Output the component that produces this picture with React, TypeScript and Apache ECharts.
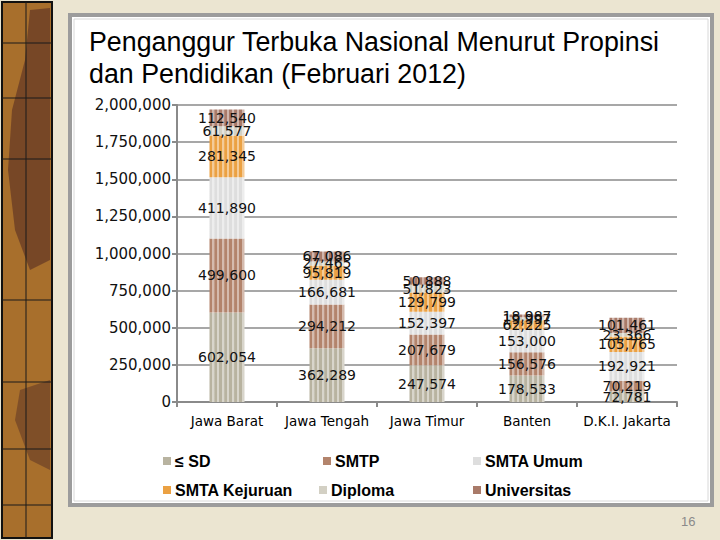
import React, { useEffect, useRef } from "react";
import * as echarts from "echarts";

const categories = ["Jawa Barat", "Jawa Tengah", "Jawa Timur", "Banten", "D.K.I. Jakarta"];
const seriesNames = ["≤ SD", "SMTP", "SMTA Umum", "SMTA Kejuruan", "Diploma", "Universitas"];
const sd = [602054, 362289, 247574, 178533, 72781];
const smtp = [499600, 294212, 207679, 156576, 70219];
const smtaUmum = [411890, 166681, 152397, 153000, 192921];
const smtaKejuruan = [281345, 95819, 129799, 62225, 105765];
const diploma = [61577, 27465, 51823, 19997, 23366];
const universitas = [112540, 67086, 50888, 18987, 101461];
const yTicks = { min: 0, max: 2000000, interval: 250000 };

const seriesValues = [sd, smtp, smtaUmum, smtaKejuruan, diploma, universitas];
const seriesColors = ["#b8b3a0", "#b3846c", "#dedede", "#eba143", "#d3d0c4", "#a97a69"];

function mix(hex: string, t: number) {
  const n = parseInt(hex.slice(1), 16);
  const r = (n >> 16) & 255, g = (n >> 8) & 255, b = n & 255;
  const f = (c: number) => Math.round(c + (255 - c) * t);
  return `rgb(${f(r)},${f(g)},${f(b)})`;
}

function stripes(hex: string) {
  const stops: any[] = [];
  const n = 14;
  for (let i = 0; i < n; i++) {
    const c = i % 2 === 0 ? hex : mix(hex, 0.45);
    stops.push({ offset: i / n, color: c });
    stops.push({ offset: (i + 1) / n - 0.0001, color: c });
  }
  return new echarts.graphic.LinearGradient(0, 0, 1, 0, stops);
}

const legendPos = [
  { left: 158, top: 448 },
  { left: 318, top: 448 },
  { left: 468, top: 448 },
  { left: 158, top: 477 },
  { left: 314, top: 477 },
  { left: 468, top: 477 },
];

export default function App() {
  const ref = useRef<HTMLDivElement>(null);
  useEffect(() => {
    if (!ref.current) return;
    const chart = echarts.init(ref.current, null, { renderer: "svg" });
    const fmt = (v: number) => v.toLocaleString("en-US");
    const stripLines = [43, 98, 159, 300, 382, 449, 505];
    const graphic: any[] = [
      { type: "rect", z: -10, shape: { x: 0, y: 0, width: 720, height: 540 }, style: { fill: "#ebe5d1" } },
      { type: "rect", z: -9, shape: { x: 2, y: 2, width: 50, height: 536 }, style: { fill: "#a86f2c", stroke: "#111", lineWidth: 2 } },
      { type: "polygon", z: -9, shape: { points: [[30, 10], [50, 8], [50, 260], [30, 270], [15, 230], [8, 170], [12, 110], [25, 60]] }, style: { fill: "#6e4126", opacity: 0.85 } },
      { type: "polygon", z: -9, shape: { points: [[20, 390], [50, 380], [50, 470], [30, 460], [15, 420]] }, style: { fill: "#6e4126", opacity: 0.7 } },
      { type: "line", z: -8, shape: { x1: 26, y1: 2, x2: 26, y2: 538 }, style: { stroke: "#1a1a1a", lineWidth: 1 } },
      ...stripLines.map((y) => ({ type: "line", z: -8, shape: { x1: 2, y1: y, x2: 52, y2: y }, style: { stroke: "#1a1a1a", lineWidth: 1 } })),
      { type: "rect", z: -7, shape: { x: 70, y: 15, width: 642, height: 490 }, style: { fill: "#ffffff", stroke: "#9c9c9c", lineWidth: 4 } },
      { type: "rect", z: -7, shape: { x: 74, y: 19, width: 634, height: 482 }, style: { fill: "none", stroke: "#d8d8d8", lineWidth: 1 } },
      { type: "text", x: 681, y: 515, style: { text: "16", fill: "#8a8a8a", fontSize: 13, fontFamily: "Liberation Sans" } },
    ];
    const series = seriesNames.map((name, i) => ({
      name,
      type: "bar",
      stack: "total",
      barWidth: 35,
      data: seriesValues[i],
      itemStyle: { color: stripes(seriesColors[i]) },
      label: {
        show: true,
        position: "inside",
        formatter: (p: any) => fmt(p.value),
        color: "#111",
        fontFamily: "DejaVu Sans",
        fontSize: 14,
      },
    }));
    const legend = seriesNames.map((name, i) => ({
      data: [{ name, itemStyle: { color: seriesColors[i] } }],
      left: legendPos[i].left,
      top: legendPos[i].top,
      icon: "rect",
      itemWidth: 8,
      itemHeight: 8,
      itemGap: 0,
      selectedMode: false,
      textStyle: { fontFamily: "Liberation Sans", fontSize: 16, fontWeight: "bold", color: "#000", padding: [0, 0, 0, -1] },
    }));
    chart.setOption({
      animation: false,
      title: {
        text: "Penganggur Terbuka Nasional Menurut Propinsi\ndan Pendidikan (Februari 2012)",
        left: 84,
        top: 21,
        textStyle: { fontFamily: "Liberation Sans", fontSize: 26.8, fontWeight: "normal", lineHeight: 32, color: "#000" },
      },
      graphic,
      legend,
      grid: { left: 177, right: 43, top: 105, bottom: 138 },
      xAxis: {
        type: "category",
        data: categories,
        axisLine: { lineStyle: { color: "#8a8a8a", width: 2 } },
        axisTick: { show: true, length: 5, lineStyle: { color: "#8a8a8a", width: 2 } },
        axisLabel: { color: "#000", fontFamily: "DejaVu Sans", fontSize: 13.5, margin: 12, interval: 0 },
      },
      yAxis: {
        type: "value",
        ...yTicks,
        axisLine: { show: true, lineStyle: { color: "#8a8a8a", width: 2 } },
        axisTick: { show: true, length: 5, lineStyle: { color: "#8a8a8a", width: 2 } },
        splitLine: { lineStyle: { color: "#8a8a8a", width: 1.5 } },
        axisLabel: { color: "#111", fontFamily: "DejaVu Sans", fontSize: 15, margin: 6, formatter: (v: number) => fmt(v) },
      },
      series,
    });
    return () => chart.dispose();
  }, []);
  return <div ref={ref} style={{ width: 720, height: 540, position: "absolute", left: 0, top: 0 }} />;
}
